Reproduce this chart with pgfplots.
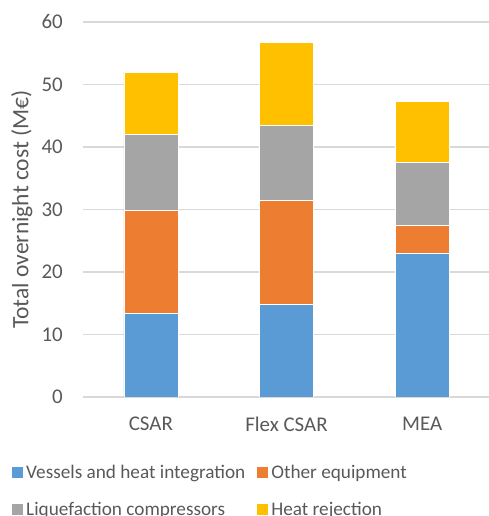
\documentclass[border=0pt]{standalone}
\usepackage{fontspec}
\setmainfont{Carlito}
\usepackage{pgfplots}
\pgfplotsset{compat=1.18}
\definecolor{txt}{HTML}{595959}
\definecolor{gridc}{HTML}{D9D9D9}
\definecolor{cBlue}{HTML}{5B9BD5}
\definecolor{cOrange}{HTML}{ED7D31}
\definecolor{cGray}{HTML}{A5A5A5}
\definecolor{cGold}{HTML}{FFC000}
\newcommand{\tickfont}{\fontsize{21}{25}\selectfont}
\newcommand{\legfont}{\fontsize{19.3}{23}\selectfont}
\newcommand{\labelfont}{\fontsize{23.6}{28}\selectfont}
\begin{document}
\begin{tikzpicture}
\useasboundingbox (0,0) rectangle (489bp,516bp);
\begin{axis}[
  at={(83bp,119bp)}, anchor=south west,
  scale only axis, width=407bp, height=375bp,
  ybar stacked, bar width=54bp,
  xmin=-0.5, xmax=2.5, ymin=0, ymax=60,
  xtick={0,1,2}, xticklabels={CSAR,Flex CSAR,MEA},
  ytick={0,10,...,60},
  ymajorgrids, grid style={gridc, line width=1.2bp},
  axis line style={draw=none},
  major tick length=0pt,
  /pgf/number format/assume math mode=true,
  tick label style={font=\tickfont, text=txt},
  yticklabel style={anchor=east, inner sep=0pt, xshift=-20bp},
  xticklabel style={anchor=center, inner sep=0pt, yshift=-27bp},
  ylabel={Total overnight cost (M€)},
  ylabel style={font=\labelfont, text=txt, at={(axis description cs:-0.1506,0.5)}, anchor=center},
  legend columns=2,
  legend cell align=left,
  legend image code/.code={\fill[#1,draw=none] (0bp,-5.5bp) rectangle (11bp,5.5bp);},
  legend style={draw=none, fill=none, font=\legfont, text=txt,
    at={(axis description cs:-0.1744,-0.181)}, anchor=north west,
    inner sep=0pt, row sep=22bp,
    /tikz/every even column/.append style={column sep=9bp},
    nodes={inner xsep=3bp, inner ysep=0pt}},
  every axis plot/.append style={draw=white, line width=0.6bp},
]
\addplot[fill=cBlue] coordinates {(0,13.4) (1,14.8) (2,22.95)};
\addplot[fill=cOrange] coordinates {(0,16.5) (1,16.6) (2,4.5)};
\addplot[fill=cGray] coordinates {(0,12.1) (1,12.1) (2,10.15)};
\addplot[fill=cGold] coordinates {(0,10.0) (1,13.2) (2,9.75)};
\legend{Vessels and heat integration, Other equipment, Liquefaction compressors, Heat rejection}
\end{axis}
\end{tikzpicture}
\end{document}
